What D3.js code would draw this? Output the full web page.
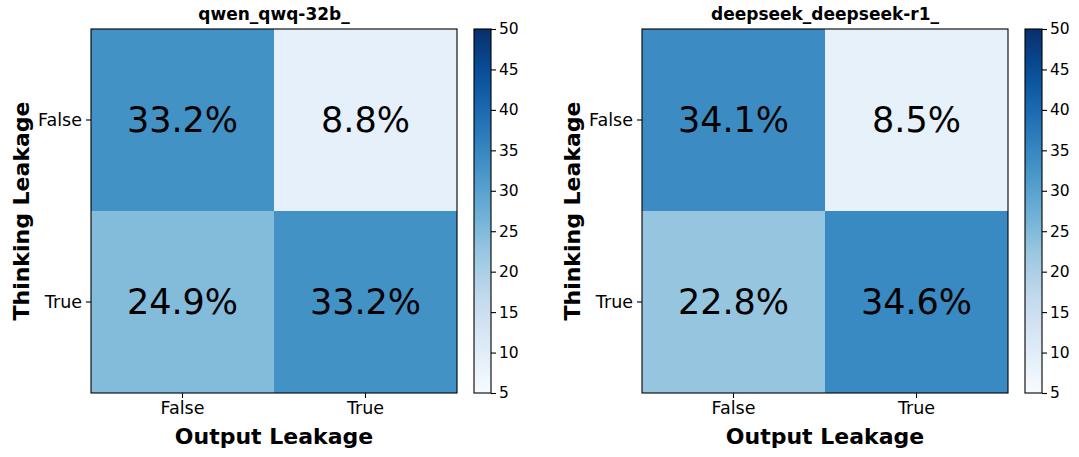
<!DOCTYPE html>
<html lang="en">
  <head>
    <meta charset="utf-8">
    <title>leakage heatmaps</title>
    <style>
      body { margin: 0; background: #fff; }
      text { font-family: "DejaVu Sans", sans-serif; }
    </style>
  </head>
  <body>
    <script src="https://d3js.org/d3.v7.min.js"></script>
    <div id="chart"></div>
    <script>

    // data
    var models = ["qwen_qwq-32b_", "deepseek_deepseek-r1_"];
    var rowLabels = ["False", "True"];   // Thinking Leakage
    var colLabels = ["False", "True"];   // Output Leakage
    var qwenValues = [[33.2, 8.8], [24.9, 33.2]];
    var deepseekValues = [[34.1, 8.5], [22.8, 34.6]];
    var cbarTicks = [5, 10, 15, 20, 25, 30, 35, 40, 45, 50];

    var panels = [
      { name: models[0], values: qwenValues, left: 91 },
      { name: models[1], values: deepseekValues, left: 642 }
    ];

    var width = 1079, height = 457;
    var plotTop = 29, plotW = 366, plotH = 364;
    var vmin = 5, vmax = 50;

    // matplotlib "Blues" (linear over the colorbrewer stops)
    var blues = ["#f7fbff","#deebf7","#c6dbef","#9ecae1","#6baed6","#4292c6","#2171b5","#08519c","#08306b"];
    var color = d3.scaleLinear()
      .domain(d3.range(blues.length).map(function(i){ return vmin + (vmax - vmin) * i / (blues.length - 1); }))
      .range(blues)
      .interpolate(d3.interpolateRgb)
      .clamp(true);

    var svg = d3.select("#chart").append("svg")
      .attr("width", width)
      .attr("height", height);

    var defs = svg.append("defs");
    var grad = defs.append("linearGradient")
      .attr("id", "bluesGrad")
      .attr("x1", 0).attr("y1", 1).attr("x2", 0).attr("y2", 0);
    d3.range(0, 1.0001, 0.05).forEach(function(t){
      grad.append("stop")
        .attr("offset", t)
        .attr("stop-color", color(vmin + t * (vmax - vmin)));
    });

    panels.forEach(function(p){
      var g = svg.append("g").attr("transform", "translate(" + p.left + "," + plotTop + ")");

      var x = d3.scaleBand().domain(colLabels).range([0, plotW]);
      var y = d3.scaleBand().domain(rowLabels).range([0, plotH]);

      var cells = [];
      p.values.forEach(function(row, i){
        row.forEach(function(v, j){ cells.push({ r: rowLabels[i], c: colLabels[j], v: v }); });
      });

      g.selectAll("rect.cell")
        .data(cells)
        .enter()
        .append("rect")
          .attr("class", "cell")
          .attr("x", function(d){ return x(d.c); })
          .attr("y", function(d){ return y(d.r); })
          .attr("width", x.bandwidth())
          .attr("height", y.bandwidth())
          .attr("fill", function(d){ return color(d.v); });

      g.selectAll("text.val")
        .data(cells)
        .enter()
        .append("text")
          .attr("class", "val")
          .attr("x", function(d){ return x(d.c) + x.bandwidth() / 2; })
          .attr("y", function(d){ return y(d.r) + y.bandwidth() / 2; })
          .attr("text-anchor", "middle")
          .attr("dominant-baseline", "central")
          .attr("font-size", "35px")
          .attr("fill", "black")
          .text(function(d){ return d.v.toFixed(1) + "%"; });

      // frame
      g.append("rect")
        .attr("width", plotW).attr("height", plotH)
        .attr("fill", "none").attr("stroke", "black").attr("stroke-width", 1.1);

      // axes
      var xAxis = g.append("g")
        .attr("transform", "translate(0," + plotH + ")")
        .call(d3.axisBottom(x).tickSize(5).tickPadding(4));
      var yAxis = g.append("g")
        .call(d3.axisLeft(y).tickSize(5).tickPadding(4));
      [xAxis, yAxis].forEach(function(a){
        a.select(".domain").remove();
        a.selectAll("text").attr("font-size", "17.5px").attr("fill", "black")
          .style("font-family", "DejaVu Sans, sans-serif");
        a.selectAll("line").attr("stroke", "black").attr("stroke-width", 1.1);
      });

      g.append("text")
        .attr("x", plotW / 2)
        .attr("y", plotH + 51)
        .attr("text-anchor", "middle")
        .attr("font-size", "22px")
        .attr("font-weight", "bold")
        .text("Output Leakage");

      g.append("text")
        .attr("transform", "translate(" + (-62) + "," + (plotH / 2) + ") rotate(-90)")
        .attr("text-anchor", "middle")
        .attr("font-size", "22px")
        .attr("font-weight", "bold")
        .text("Thinking Leakage");

      g.append("text")
        .attr("x", plotW / 2)
        .attr("y", -9)
        .attr("text-anchor", "middle")
        .attr("font-size", "17px")
        .attr("font-weight", "bold")
        .text(p.name);

      // colorbar
      var cb = svg.append("g").attr("transform", "translate(" + (p.left + plotW + 17) + "," + plotTop + ")");
      var cbW = 17;
      var cy = d3.scaleLinear().domain([vmin, vmax]).range([plotH, 0]);
      cb.append("rect")
        .attr("width", cbW).attr("height", plotH)
        .attr("fill", "url(#bluesGrad)")
        .attr("stroke", "black").attr("stroke-width", 1.1);
      var cax = cb.append("g")
        .attr("transform", "translate(" + cbW + ",0)")
        .call(d3.axisRight(cy).tickValues(cbarTicks).tickSize(5).tickPadding(3));
      cax.select(".domain").remove();
      cax.selectAll("text").attr("font-size", "15.5px").attr("fill", "black")
        .style("font-family", "DejaVu Sans, sans-serif");
      cax.selectAll("line").attr("stroke", "black").attr("stroke-width", 1.1);
    });

    </script>
  </body>
</html>
